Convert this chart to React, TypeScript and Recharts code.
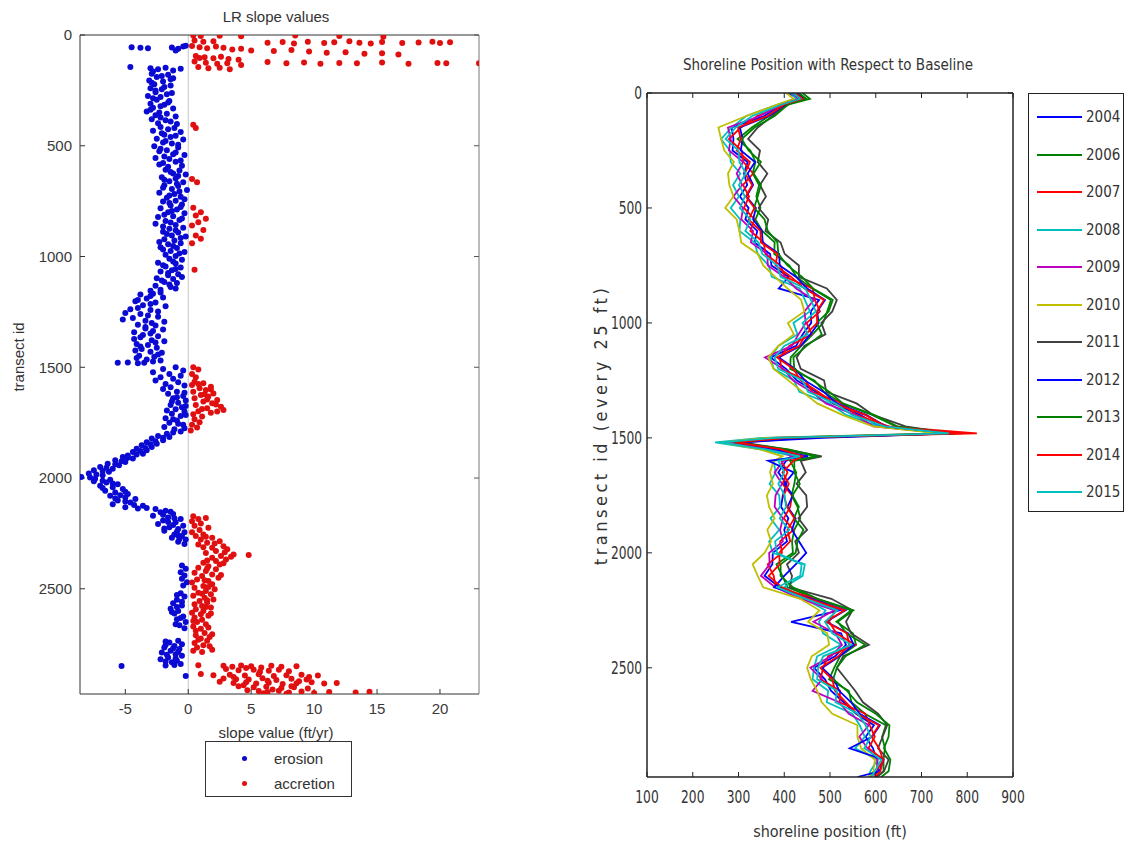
import React from 'react';
import { ScatterChart, Scatter, LineChart, Line, XAxis, YAxis, ReferenceLine, Legend } from 'recharts';

// left panel: linear regression slope per transect, [transect id, ft/yr]
const erosionPoints: [number, number][] = [
  [55, -4.5], [58, -3.8], [60, -3.2], [56, -1.3], [62, -0.8], [52, -0.4], [70, -1.0], [48, -0.2],
  [145, -4.6], [150, -3.0], [155, -2.4], [148, -1.8], [160, -1.2], [152, -0.6], [165, -2.8],
  [175, -2.9], [180, -1.6], [190, -2.5], [195, -1.2], [205, -3.1], [210, -2.0], [222, -2.7], [228, -1.4],
  [240, -3.0], [245, -2.1], [258, -2.6], [262, -1.3], [275, -3.2], [280, -2.2], [292, -2.5], [298, -1.5],
  [310, -3.0], [315, -1.9], [328, -2.8], [332, -1.2], [345, -3.3], [350, -2.3], [362, -2.6], [368, -1.0],
  [380, -2.9], [385, -1.8], [398, -2.4], [402, -0.9],
  [185, -2.1], [200, -1.4], [215, -2.9], [235, -1.9], [250, -2.6], [268, -1.7], [285, -2.8], [305, -1.6],
  [322, -2.2], [338, -3.0], [355, -1.7], [372, -2.2], [390, -1.4],
  [415, -2.2], [420, -1.1], [432, -2.8], [438, -0.6], [450, -1.9], [455, -1.0], [468, -2.5], [472, -0.4],
  [485, -2.0], [490, -1.3], [502, -2.7], [508, -0.8], [520, -1.7], [525, -2.3], [538, -1.2], [542, -0.3],
  [555, -2.6], [560, -1.5], [572, -1.0], [578, -2.0], [590, -0.5], [595, -1.6],
  [425, -1.6], [443, -2.1], [460, -1.4], [478, -1.8], [495, -0.8], [514, -2.2], [530, -1.0], [548, -1.9],
  [566, -0.6], [585, -2.3],
  [608, -1.8], [612, -0.7], [625, -1.2], [630, -0.2], [642, -2.1], [648, -1.0], [660, -1.5], [665, -0.4],
  [678, -1.9], [682, -0.8], [695, -1.3], [700, -0.1], [712, -2.3], [718, -1.1], [730, -0.6], [735, -1.7],
  [748, -1.0], [752, -2.0], [765, -0.5], [770, -1.4], [782, -2.2], [788, -0.9], [800, -1.6], [805, -0.3],
  [818, -1.2], [822, -2.4], [835, -0.7], [840, -1.8], [852, -2.6], [858, -1.0], [870, -0.4], [875, -1.5],
  [888, -2.0], [892, -0.8], [905, -1.3], [910, -0.2], [922, -1.9], [928, -1.1], [940, -0.6], [945, -1.6],
  [958, -2.2], [962, -0.9], [975, -1.4], [980, -0.3], [992, -1.8], [998, -1.0],
  [618, -1.4], [636, -0.8], [654, -1.9], [672, -0.9], [690, -2.0], [706, -0.7], [724, -1.5], [742, -0.3],
  [758, -1.5], [776, -0.6], [794, -1.3], [812, -1.9], [828, -0.5], [846, -1.4], [864, -2.0], [882, -1.0],
  [898, -1.7], [916, -0.6], [934, -2.3], [952, -1.2], [968, -2.0], [986, -0.7],
  [1010, -1.5], [1015, -0.5], [1028, -2.4], [1032, -1.0], [1045, -1.8], [1050, -0.6], [1062, -1.3], [1068, -2.2],
  [1080, -0.8], [1085, -1.6], [1098, -2.5], [1102, -1.2], [1115, -1.9], [1120, -0.9], [1132, -2.6], [1138, -1.4],
  [1150, -2.2], [1155, -3.0],
  [1022, -1.2], [1040, -2.0], [1056, -1.0], [1074, -1.6], [1092, -0.5], [1108, -2.1], [1126, -1.5], [1144, -1.0],
  [1168, -2.8], [1172, -3.8], [1185, -2.0], [1190, -3.3], [1202, -4.2], [1208, -2.6], [1220, -3.6], [1225, -1.8],
  [1238, -4.6], [1242, -3.0], [1255, -5.0], [1260, -3.8], [1272, -2.4], [1278, -4.4], [1290, -3.4], [1295, -1.9],
  [1162, -2.2], [1178, -3.0], [1196, -4.0], [1214, -3.0], [1232, -4.0], [1248, -2.4], [1266, -3.2], [1284, -5.2],
  [1300, -2.9],
  [1308, -4.0], [1312, -2.6], [1325, -3.4], [1330, -2.0], [1342, -4.3], [1348, -3.0], [1360, -2.4], [1365, -3.8],
  [1378, -2.9], [1382, -1.9], [1395, -4.1], [1400, -3.2], [1412, -2.5], [1418, -3.7], [1430, -3.0], [1435, -2.1],
  [1448, -3.9], [1452, -2.7], [1465, -3.3], [1470, -2.2],
  [1318, -3.4], [1336, -2.8], [1354, -3.6], [1372, -4.3], [1388, -2.6], [1406, -3.8], [1424, -4.2], [1442, -2.4],
  [1458, -4.1], [1474, -2.8],
  [1480, -5.6], [1478, -4.8], [1482, -4.0], [1480, -3.5],
  [1500, -1.0], [1508, -2.0], [1515, -0.4], [1522, -2.8], [1530, -1.5], [1538, -0.6], [1545, -2.2], [1552, -1.2],
  [1560, -2.6], [1568, -0.8], [1575, -1.8], [1582, -0.3], [1590, -1.4], [1598, -2.0],
  [1610, -0.9], [1620, -1.6], [1630, -0.4], [1640, -1.2], [1650, -0.2], [1660, -0.8], [1670, -1.4], [1680, -0.5],
  [1690, -1.0], [1700, -0.3], [1710, -1.3], [1720, -0.6], [1730, -1.8], [1740, -0.9], [1750, -1.5], [1760, -0.4],
  [1770, -1.9], [1780, -1.1], [1790, -0.6], [1800, -1.7],
  [1615, -0.3], [1635, -0.9], [1655, -1.3], [1675, -0.2], [1695, -1.7], [1715, -0.2], [1735, -1.2], [1755, -0.8],
  [1775, -0.3], [1795, -1.2],
  [1810, -2.4], [1815, -1.5], [1822, -2.9], [1830, -2.0], [1838, -3.3], [1845, -2.5], [1852, -3.7], [1860, -2.9],
  [1868, -4.1], [1875, -3.3], [1882, -4.4], [1890, -3.6], [1898, -4.8],
  [1905, -5.2], [1912, -4.4], [1920, -5.8], [1928, -5.0], [1935, -6.4], [1942, -5.5], [1950, -7.0], [1958, -6.0],
  [1965, -7.5], [1972, -6.3], [1980, -7.9], [1988, -6.8], [1995, -8.5], [2000, -8.8], [2003, -7.4], [2008, -6.2],
  [2015, -7.5], [2020, -6.5], [2028, -5.6], [2035, -7.0], [2042, -6.0], [2050, -5.2], [2058, -6.6], [2065, -5.8],
  [2072, -4.8], [2080, -6.2], [2088, -5.0], [2095, -4.2], [2102, -5.6], [2110, -4.6], [2118, -6.0], [2125, -3.6],
  [2132, -5.0], [2138, -4.0],
  [1818, -2.0], [1834, -2.6], [1848, -3.0], [1864, -3.4], [1878, -3.8], [1894, -4.1], [1908, -4.8], [1924, -5.3],
  [1938, -5.8], [1954, -6.5], [1968, -6.8], [1984, -7.3], [1998, -7.8], [2012, -6.8], [2025, -6.0], [2045, -6.8],
  [2062, -5.0], [2078, -5.4], [2092, -5.8], [2106, -5.0], [2122, -4.3], [2135, -3.3],
  [2140, -2.6], [2148, -1.8], [2155, -2.2], [2162, -1.2], [2170, -2.8], [2178, -1.6], [2185, -0.6], [2192, -2.0],
  [2200, -1.0], [2208, -2.4], [2215, -0.4], [2222, -1.5], [2230, -0.8], [2238, -1.9], [2245, -0.3],
  [2152, -1.4], [2166, -2.0], [2182, -1.1], [2198, -1.6], [2212, -1.2], [2228, -1.9], [2242, -0.9],
  [2255, -1.1], [2262, -0.5], [2270, -1.3], [2278, -0.2], [2288, -0.8], [2298, -0.3], [2260, -0.8], [2275, -0.7],
  [2395, -0.5], [2410, -0.2], [2425, -0.6], [2440, -0.3], [2455, -0.5], [2470, -0.1], [2485, -0.4],
  [2520, -0.6], [2535, -0.3], [2550, -0.9], [2565, -1.2], [2575, -0.5], [2590, -1.4], [2600, -0.8], [2612, -1.1],
  [2625, -0.4], [2638, -0.9], [2650, -0.2], [2665, -0.7], [2678, -0.3],
  [2528, -0.9], [2558, -0.5], [2582, -0.9], [2605, -1.3], [2632, -0.6], [2660, -1.0],
  [2735, -0.8], [2742, -1.5], [2750, -0.5], [2758, -1.1], [2765, -1.9], [2772, -0.7], [2780, -1.4], [2788, -2.1],
  [2795, -1.0], [2802, -0.5], [2810, -1.6], [2818, -2.2], [2825, -0.9], [2832, -1.3], [2840, -0.6], [2846, -1.8],
  [2738, -1.8], [2754, -1.8], [2768, -1.2], [2784, -0.8], [2798, -1.7], [2814, -1.0], [2828, -1.8], [2844, -1.1],
  [2849, -5.3], [2894, -0.2],
];

const accretionPoints: [number, number][] = [
  [2, 0.4], [4, 1.0], [3, 2.5], [6, 4.2], [2, 8.5], [5, 12.0], [8, 15.5],
  [25, 0.5], [30, 1.2], [28, 2.0], [35, 6.3], [32, 7.5], [38, 8.4], [30, 9.5], [36, 10.8], [33, 11.6], [28, 12.8],
  [35, 13.6], [38, 14.5], [32, 15.4], [36, 17.0], [34, 18.3], [30, 19.4], [36, 20.0], [33, 20.8],
  [50, 0.3], [55, 0.9], [60, 1.5], [52, 2.2], [58, 2.8], [65, 3.5], [62, 4.2], [70, 5.0], [72, 6.8], [68, 8.2],
  [75, 9.6], [80, 11.0], [78, 12.5], [85, 14.0], [82, 15.4], [88, 16.7],
  [95, 0.6], [100, 1.3], [105, 2.0], [98, 2.6], [108, 3.2], [112, 4.0], [104, 0.9],
  [120, 0.5], [125, 1.4], [130, 2.3], [128, 3.1], [135, 4.2], [122, 6.3], [128, 7.8], [124, 9.2], [130, 10.5],
  [126, 12.0], [128, 13.4], [124, 15.4], [130, 17.5], [126, 19.8], [128, 20.5], [127, 23.1],
  [145, 0.8], [150, 1.6], [148, 2.5], [155, 3.3],
  [405, 0.4], [420, 0.6], [650, 0.3], [665, 0.7], [780, 0.4], [800, 1.0], [815, 0.6], [830, 1.4], [845, 0.8],
  [860, 0.3], [880, 1.2], [905, 0.6], [920, 1.0], [940, 0.3], [1060, 0.5],
  [1500, 0.4], [1510, 0.8], [1530, 0.3], [1545, 0.6],
  [1565, 0.5], [1572, 1.2], [1580, 0.3], [1588, 1.8], [1595, 0.9], [1603, 1.4], [1610, 0.4], [1618, 2.0],
  [1625, 1.0], [1632, 1.6], [1640, 0.5], [1648, 2.3], [1655, 1.2], [1662, 1.9], [1670, 0.6], [1678, 2.6],
  [1685, 1.5], [1693, 2.8], [1698, 0.8], [1705, 1.8], [1712, 0.4],
  [1575, 0.8], [1600, 1.8], [1622, 1.3], [1645, 1.5], [1668, 2.2], [1688, 1.1], [1700, 2.3],
  [1722, 1.1], [1735, 0.5], [1748, 0.9], [1760, 0.3], [1772, 0.7], [1785, 0.2],
  [2172, 0.4], [2180, 1.4], [2185, 0.8], [2195, 0.3], [2205, 1.0], [2215, 0.5], [2225, 1.6], [2235, 0.9], [2245, 0.3],
  [2255, 1.2], [2262, 0.6], [2270, 1.9], [2278, 1.0], [2285, 2.5], [2292, 1.5], [2300, 0.8], [2308, 2.8],
  [2315, 1.9], [2322, 3.1], [2330, 2.2], [2338, 1.4], [2345, 3.6], [2348, 4.8], [2352, 2.6], [2360, 1.9],
  [2368, 3.0], [2375, 2.2], [2382, 1.2], [2390, 2.5], [2398, 1.6],
  [2265, 1.4], [2296, 2.1], [2312, 1.2], [2335, 2.9], [2355, 3.4], [2372, 1.5], [2385, 2.8],
  [2405, 0.8], [2412, 2.2], [2420, 1.4], [2428, 0.5], [2435, 1.9], [2442, 1.1], [2450, 2.4], [2458, 0.7],
  [2465, 1.6], [2472, 0.3], [2480, 1.9], [2488, 1.2], [2495, 0.5], [2502, 2.1], [2510, 1.4], [2518, 0.8],
  [2525, 1.8], [2532, 0.4], [2540, 1.3], [2548, 2.0], [2555, 0.9], [2562, 1.5], [2570, 0.5], [2578, 1.1],
  [2585, 1.8], [2592, 0.6], [2600, 1.2], [2608, 0.3], [2615, 1.0], [2622, 1.6], [2630, 0.5], [2640, 1.1],
  [2650, 0.7], [2660, 1.4], [2670, 0.4], [2680, 1.0], [2690, 0.6],
  [2408, 1.5], [2438, 2.6], [2462, 1.3], [2492, 1.6], [2522, 1.1], [2552, 1.5], [2582, 1.4], [2612, 1.8],
  [2645, 0.4], [2675, 1.6],
  [2700, 1.3], [2710, 0.6], [2718, 1.7], [2725, 1.0], [2735, 1.5], [2745, 0.5], [2755, 1.2], [2765, 0.7],
  [2775, 1.9], [2785, 1.1], [2705, 1.9], [2730, 0.8], [2760, 1.7], [2780, 0.4],
  [2845, 0.8], [2848, 2.8], [2852, 3.5], [2846, 4.2], [2850, 5.0], [2855, 5.8], [2848, 6.6], [2852, 7.4], [2850, 8.6],
  [2862, 3.0], [2868, 4.0], [2865, 5.2], [2870, 6.4], [2866, 7.2], [2872, 8.0],
  [2885, 1.0], [2890, 2.0], [2888, 3.3], [2892, 4.5], [2886, 5.6], [2894, 6.8], [2890, 7.8], [2888, 9.0], [2892, 10.3],
  [2905, 2.8], [2908, 3.8], [2910, 4.8], [2904, 5.9], [2912, 7.0], [2906, 8.2], [2910, 9.4],
  [2920, 2.5], [2925, 3.6], [2922, 4.6], [2928, 5.4], [2924, 6.4], [2930, 7.5], [2926, 8.6], [2922, 9.8],
  [2928, 10.8], [2925, 11.8],
  [2940, 4.0], [2945, 5.2], [2942, 6.2], [2948, 7.4], [2944, 8.4], [2950, 9.5],
  [2958, 4.7], [2962, 5.6], [2966, 6.3], [2960, 7.2], [2968, 8.0], [2964, 9.0], [2970, 10.0], [2966, 11.2],
  [2968, 13.3], [2965, 14.4], [2972, 6.0],
  [2858, 4.6], [2875, 5.7], [2898, 3.6], [2915, 6.3], [2935, 4.4], [2955, 6.7], [2974, 7.8], [2940, 8.2],
  [2918, 8.8], [2898, 9.6],
];

const slopeTicks = [-5, 0, 5, 10, 15, 20];
const transectTicks = [0, 500, 1000, 1500, 2000, 2500];
const slopeKeyOrder = ['erosion', 'accretion'];

// right panel: shoreline position (ft) for each survey year
const transectIds = [
  0, 25, 50, 100, 150, 200, 250, 300, 350, 400, 450, 500, 550, 600, 650, 700, 750, 800, 850, 900,
  950, 1000, 1050, 1100, 1150, 1200, 1250, 1300, 1350, 1400, 1450, 1480, 1500, 1520, 1550, 1580, 1600, 1650, 1700, 1750,
  1800, 1850, 1900, 1950, 2000, 2050, 2100, 2150, 2200, 2250, 2300, 2350, 2400, 2450, 2500, 2550, 2600, 2650, 2700, 2750,
  2800, 2850, 2900, 2950, 2975,
];

const surveyYears = ['2004', '2006', '2007', '2008', '2009', '2010', '2011', '2012', '2013', '2014', '2015'];

const pos2004 = [410,430,395,356,285,289,287,320,312,319, 303,322,315,341,335,369,372,410,388,476, 458,459,440,426,370,404,427,470,507,566, 608,760,420,300,386,425,404,387,405,397, 393,409,400,406,375,374,357,390,452,521, 415,524,535,511,465,489,502,530,557,596, 578,594,602,606,586];
const pos2006 = [440,456,410,367,329,298,326,337,331,345, 339,348,337,352,379,378,411,427,461,502, 494,485,462,437,414,413,466,487,526,592, 644,775,380,285,397,469,413,426,422,416, 429,435,422,417,419,383,396,407,471,547, 514,550,557,522,509,498,541,547,576,622, 614,620,617,617,603];
const pos2007 = [420,438,398,341,305,279,307,311,332,310, 323,312,335,326,355,359,392,401,462,467, 478,449,460,411,390,394,447,461,527,557, 628,821,390,280,371,445,394,407,396,417, 413,399,420,391,395,364,377,381,472,512, 498,514,555,496,485,479,522,521,577,587, 598,584,617,601,598];
const pos2008 = [415,428,385,317,285,262,281,283,304,288, 301,283,304,302,335,342,366,373,434,445, 456,420,429,387,370,377,421,433,499,535, 606,745,350,249,347,425,377,381,368,389, 391,370,389,367,375,445,440,400,444,490, 476,485,524,472,465,462,496,493,549,565, 576,555,604,588,585];
const pos2009 = [418,432,392,347,277,283,279,310,296,308, 289,310,306,332,327,363,364,400,426,465, 444,447,431,417,358,398,419,460,491,555, 594,755,370,275,377,417,398,379,395,381, 379,397,391,397,367,368,349,380,436,510, 464,512,526,502,457,483,462,520,541,585, 564,582,604,603,587];
const pos2010 = [405,420,385,317,256,262,269,290,277,280, 289,271,296,302,306,342,354,380,407,437, 444,408,421,387,365,377,409,440,472,527, 594,740,360,262,347,396,377,369,375,362, 367,379,363,371,357,331,342,354,435,477, 452,494,498,460,450,458,472,482,505,560, 560,568,598,595,585];
const pos2011 = [430,445,405,374,342,321,347,342,363,347, 360,344,365,359,392,401,432,432,493,515, 505,481,490,444,427,436,487,492,558,594, 665,765,440,310,404,482,436,447,427,448, 450,431,450,424,432,406,417,412,503,549, 535,546,585,529,515,535,555,572,605,625, 615,605,628,618,602];
const pos2012 = [428,442,402,366,303,309,305,336,320,332, 317,338,332,351,353,389,390,426,450,489, 472,475,457,436,388,424,445,486,515,579, 622,768,483,300,378,452,365,421,400,419, 407,425,417,432,448,425,400,378,460,534, 492,540,552,521,483,509,520,546,565,609, 592,543,617,608,560];
const pos2013 = [432,448,408,379,335,307,322,349,333,349, 342,334,357,364,385,387,407,439,463,506, 497,471,482,449,420,422,462,499,528,596, 647,772,395,292,409,475,422,422,434,418, 432,421,442,429,425,392,392,419,473,551, 517,536,577,534,515,507,537,559,600,630, 628,618,632,628,612];
const pos2014 = [424,440,400,363,299,305,296,325,314,330, 316,335,322,348,349,385,381,415,444,487, 471,472,447,433,384,420,436,475,509,577, 621,790,405,295,393,439,420,396,410,399, 406,422,407,413,389,390,366,395,454,532, 491,537,542,518,479,505,511,535,559,607, 591,607,616,610,599];
const pos2015 = [420,435,395,330,294,272,300,302,316,301, 314,303,326,315,344,352,385,392,446,458, 469,440,451,400,379,387,440,452,511,548, 619,760,380,260,360,434,387,400,387,401, 404,390,411,380,384,438,435,385,447,516, 489,505,546,485,474,472,515,512,561,578, 589,575,612,598,590];

const positionTicks = [100, 200, 300, 400, 500, 600, 700, 800, 900];

const yearValues = [pos2004, pos2006, pos2007, pos2008, pos2009, pos2010, pos2011, pos2012, pos2013, pos2014, pos2015];
// matlab's default line colour cycle
const yearColors = ['#0000ff', '#008000', '#ff0000', '#00bfbf', '#bf00bf', '#bfbf00', '#404040', '#0000ff', '#008000', '#ff0000', '#00bfbf'];

const shorelineRows = transectIds.map((id, i) => {
  const row: Record<string, number> = { id };
  surveyYears.forEach((yr, k) => {
    row['y' + yr] = yearValues[k][i];
  });
  return row;
});

const toPts = (pts: [number, number][]) => pts.map(([id, v]) => ({ id, v }));

const NARROW = "'Liberation Sans Narrow', 'DejaVu Sans Condensed', sans-serif";
const SANS = "'Liberation Sans', Arial, sans-serif";

const dotShape = (color: string) => (p: any) => <circle cx={p.cx} cy={p.cy} r={3} fill={color} />;

// squeezed tick text so the right panel reads like the narrow matlab font
const narrowTick = (side: 'bottom' | 'left') => (p: any) => (
  <text
    transform={`translate(${p.x},${p.y}) scale(0.8,1)`}
    textAnchor={side === 'bottom' ? 'middle' : 'end'}
    dy={side === 'bottom' ? '0.71em' : '0.36em'}
    fill="#333" fontSize={17} fontFamily={NARROW} fontStretch="condensed"
  >
    {p.payload.value}
  </text>
);

function SlopeKey({ payload }: any) {
  return (
    <div style={{ width: 147, height: 56, boxSizing: 'border-box', border: '1px solid #333', background: '#fff', paddingTop: 4, fontFamily: SANS }}>
      {(payload || []).map((p: any) => (
        <div key={p.value} style={{ height: 25, display: 'flex', alignItems: 'center', fontSize: 15, color: '#333' }}>
          <span style={{ width: 5, height: 5, borderRadius: 3, background: p.color, marginLeft: 36, marginRight: 27 }} />
          {p.value}
        </div>
      ))}
    </div>
  );
}

function YearKey({ payload }: any) {
  return (
    <div style={{ position: 'relative', width: 96, height: 419, boxSizing: 'border-box', border: '1px solid #222', background: '#fff', fontFamily: NARROW, fontStretch: 'condensed' }}>
      {(payload || []).map((p: any, i: number) => (
        <div key={p.value} style={{ position: 'absolute', left: 0, top: Math.round(4 + i * 37.5), height: 38, display: 'flex', alignItems: 'center', fontSize: 15, color: '#333' }}>
          <span style={{ width: 45, height: 2, background: p.color, marginLeft: 8, marginRight: 4 }} />
          {p.value}
        </div>
      ))}
    </div>
  );
}

const label = (text: string, cx: number, cy: number, extra: React.CSSProperties = {}) => (
  <div
    style={{
      position: 'absolute', left: cx, top: cy, transform: 'translate(-50%, -50%)',
      whiteSpace: 'nowrap', color: '#333', fontSize: 15, ...extra,
    }}
  >
    {text}
  </div>
);

export default function App() {
  const leftTick = { fill: '#3a3a3a', fontSize: 15, fontFamily: SANS };

  return (
    <div style={{ position: 'absolute', left: 0, top: 0, width: 1126, height: 848, background: '#fff', fontFamily: SANS }}>
      <div style={{ position: 'absolute', left: 0, top: 0 }}>
        <ScatterChart width={500} height={848} margin={{ top: 34, right: 20, bottom: 124, left: 40 }}>
          <XAxis xAxisId="b" type="number" dataKey="v" domain={[-8.6, 23.1]} allowDataOverflow ticks={slopeTicks}
            height={30} tickSize={-5} tickMargin={14} axisLine={{ stroke: '#333' }} tickLine={{ stroke: '#333' }} tick={leftTick} />
          <XAxis xAxisId="t" orientation="top" type="number" domain={[-8.6, 23.1]} allowDataOverflow ticks={slopeTicks}
            height={1} tickSize={-5} axisLine={{ stroke: '#333' }} tickLine={{ stroke: '#333' }} tickFormatter={() => ''} />
          <YAxis yAxisId="l" type="number" dataKey="id" reversed domain={[0, 2975]} allowDataOverflow ticks={transectTicks}
            width={40} tickSize={-5} tickMargin={13} axisLine={{ stroke: '#333' }} tickLine={{ stroke: '#333' }} tick={leftTick} />
          <YAxis yAxisId="r" orientation="right" type="number" reversed domain={[0, 2975]} allowDataOverflow ticks={transectTicks}
            width={1} tickSize={-5} axisLine={{ stroke: '#777' }} tickLine={{ stroke: '#555' }} tickFormatter={() => ''} />
          <ReferenceLine xAxisId="b" yAxisId="l" x={0} stroke="#c4c4c4" />
          <Scatter name="erosion" xAxisId="b" yAxisId="l" data={toPts(erosionPoints)} fill="#0a0ad2"
            shape={dotShape('#0a0ad2')} isAnimationActive={false} />
          <Scatter name="accretion" xAxisId="b" yAxisId="l" data={toPts(accretionPoints)} fill="#e01010"
            shape={dotShape('#e01010')} isAnimationActive={false} />
          <Legend layout="horizontal" verticalAlign="middle" align="center"
            itemSorter={(item: any) => slopeKeyOrder.indexOf(item.value)}
            wrapperStyle={{ left: 205, top: 741, width: 147, height: 56 }} content={(props: any) => <SlopeKey {...props} />} />
        </ScatterChart>
      </div>

      <div style={{ position: 'absolute', left: 560, top: 0 }}>
        <LineChart layout="vertical" width={566} height={848} data={shorelineRows} margin={{ top: 92, right: 112, bottom: 41, left: 47 }}>
          <XAxis type="number" domain={[100, 900]} allowDataOverflow ticks={positionTicks}
            height={30} tickSize={-5} tickMargin={19} axisLine={{ stroke: '#222', strokeWidth: 1.5 }} tickLine={{ stroke: '#222' }} tick={narrowTick('bottom')} />
          <XAxis xAxisId="t" orientation="top" type="number" domain={[100, 900]} allowDataOverflow ticks={positionTicks}
            height={1} tickSize={-5} axisLine={{ stroke: '#222', strokeWidth: 1.5 }} tickLine={{ stroke: '#222' }} tickFormatter={() => ''} />
          <YAxis type="number" dataKey="id" domain={[0, 2975]} allowDataOverflow ticks={transectTicks}
            width={40} tickSize={-5} tickMargin={10} axisLine={{ stroke: '#222', strokeWidth: 1.5 }} tickLine={{ stroke: '#222' }} tick={narrowTick('left')} />
          <YAxis yAxisId="r" orientation="right" type="number" domain={[0, 2975]} allowDataOverflow ticks={transectTicks}
            width={1} tickSize={-5} axisLine={{ stroke: '#222', strokeWidth: 1.5 }} tickLine={{ stroke: '#222' }} tickFormatter={() => ''} />
          {surveyYears.map((yr, k) => (
            <Line key={yr} name={yr} dataKey={'y' + yr} stroke={yearColors[k]} strokeWidth={1.8} dot={false} isAnimationActive={false} />
          ))}
          <Legend layout="horizontal" verticalAlign="middle" align="center"
            wrapperStyle={{ left: 468, top: 93, width: 96, height: 419 }} content={(props: any) => <YearKey {...props} />} />
        </LineChart>
      </div>

      {label('LR slope values', 276, 16)}
      {label('slope value (ft/yr)', 276, 732)}
      {label('transect id', 18, 357, { transform: 'translate(-50%, -50%) rotate(-90deg)' })}

      {label('Shoreline Position with Respect to Baseline', 828, 65, { fontFamily: NARROW, fontStretch: 'condensed', fontSize: 15 })}
      {label('shoreline position (ft)', 830, 831, { fontFamily: NARROW, fontStretch: 'condensed', fontSize: 16 })}
      {label('transect id (every 25 ft)', 600, 425, {
        fontFamily: NARROW, fontStretch: 'condensed', fontSize: 18, letterSpacing: 3.5,
        transform: 'translate(-50%, -50%) rotate(-90deg)',
      })}
    </div>
  );
}
